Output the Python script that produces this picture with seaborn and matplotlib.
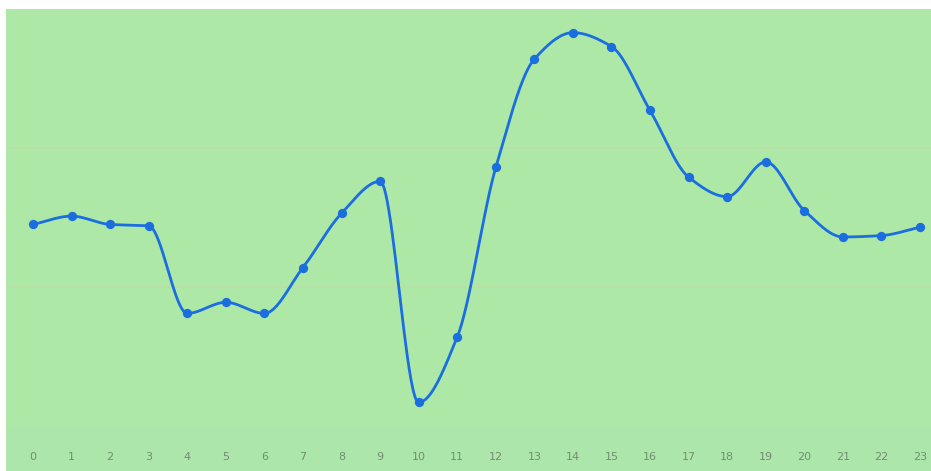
import numpy as np
import pandas as pd
import matplotlib
matplotlib.use("Agg")
import matplotlib.pyplot as plt
import seaborn as sns

hours = list(range(24))
values = [14.5, 15.1, 14.5, 14.4, 8.1, 8.9, 8.1, 11.4, 15.3, 17.6, 1.7, 6.4,
          18.6, 26.4, 28.3, 27.3, 22.7, 17.9, 16.5, 19.0, 15.5, 13.6, 13.7, 14.3]
tick_labels = [str(h) for h in hours]

BG_AX = "#aee8a7"
BG_FIG = "#ade6ab"
LINE = "#1b6ee0"


def pchip(x, y, n=40):
    """Monotone cubic (Fritsch-Carlson) curve through the points."""
    x = np.asarray(x, float)
    y = np.asarray(y, float)
    h = np.diff(x)
    d = np.diff(y) / h
    m = np.zeros_like(y)
    for k in range(1, len(y) - 1):
        if d[k - 1] * d[k] > 0:
            w1 = 2 * h[k] + h[k - 1]
            w2 = h[k] + 2 * h[k - 1]
            m[k] = (w1 + w2) / (w1 / d[k - 1] + w2 / d[k])
    m[0] = d[0]
    m[-1] = d[-1]
    xs, ys = [], []
    t = np.linspace(0, 1, n, endpoint=False)
    for k in range(len(x) - 1):
        h00 = 2 * t ** 3 - 3 * t ** 2 + 1
        h10 = t ** 3 - 2 * t ** 2 + t
        h01 = -2 * t ** 3 + 3 * t ** 2
        h11 = t ** 3 - t ** 2
        xs.extend(x[k] + t * h[k])
        ys.extend(h00 * y[k] + h10 * h[k] * m[k] + h01 * y[k + 1] + h11 * h[k] * m[k + 1])
    xs.append(x[-1])
    ys.append(y[-1])
    return np.array(xs), np.array(ys)


sns.set_theme(style="white")
fig = plt.figure(figsize=(9.31, 4.71), dpi=100, facecolor="white")
# green panel behind the chart
panel = plt.Rectangle((6 / 931, 0), 1 - 6 / 931, 1 - 9 / 471,
                      transform=fig.transFigure, facecolor=BG_FIG,
                      edgecolor="none", zorder=-10)
fig.patches.append(panel)

ax = fig.add_axes([6 / 931, 45 / 471, 925 / 931, 417 / 471])
ax.set_zorder(5)
ax.set_facecolor(BG_AX)

sx, sy = pchip(hours, values)
smooth = pd.DataFrame({"hour": sx, "value": sy})
df = pd.DataFrame({"hour": hours, "value": values})

sns.lineplot(data=smooth, x="hour", y="value", ax=ax, color=LINE, linewidth=2.0,
             estimator=None, sort=False, zorder=3)
sns.scatterplot(data=df, x="hour", y="value", ax=ax, color=LINE, s=45,
                edgecolor=LINE, linewidth=0, zorder=4)

ax.set_xlim(-0.70, 23.285)
ax.set_ylim(0, 30)
ax.set_yticks([10, 20])
ax.set_yticklabels([])
ax.yaxis.grid(True, color="#b8dfa6", linewidth=1.2)
ax.xaxis.grid(False)
ax.set_xticks(hours)
ax.set_xticklabels(tick_labels, fontsize=8, color="#6f906c")
ax.tick_params(axis="x", length=0, pad=19)
ax.tick_params(axis="y", length=0)
for s in ax.spines.values():
    s.set_visible(False)
ax.set_xlabel("")
ax.set_ylabel("")

fig.savefig("out.png", dpi=100, facecolor="white")
